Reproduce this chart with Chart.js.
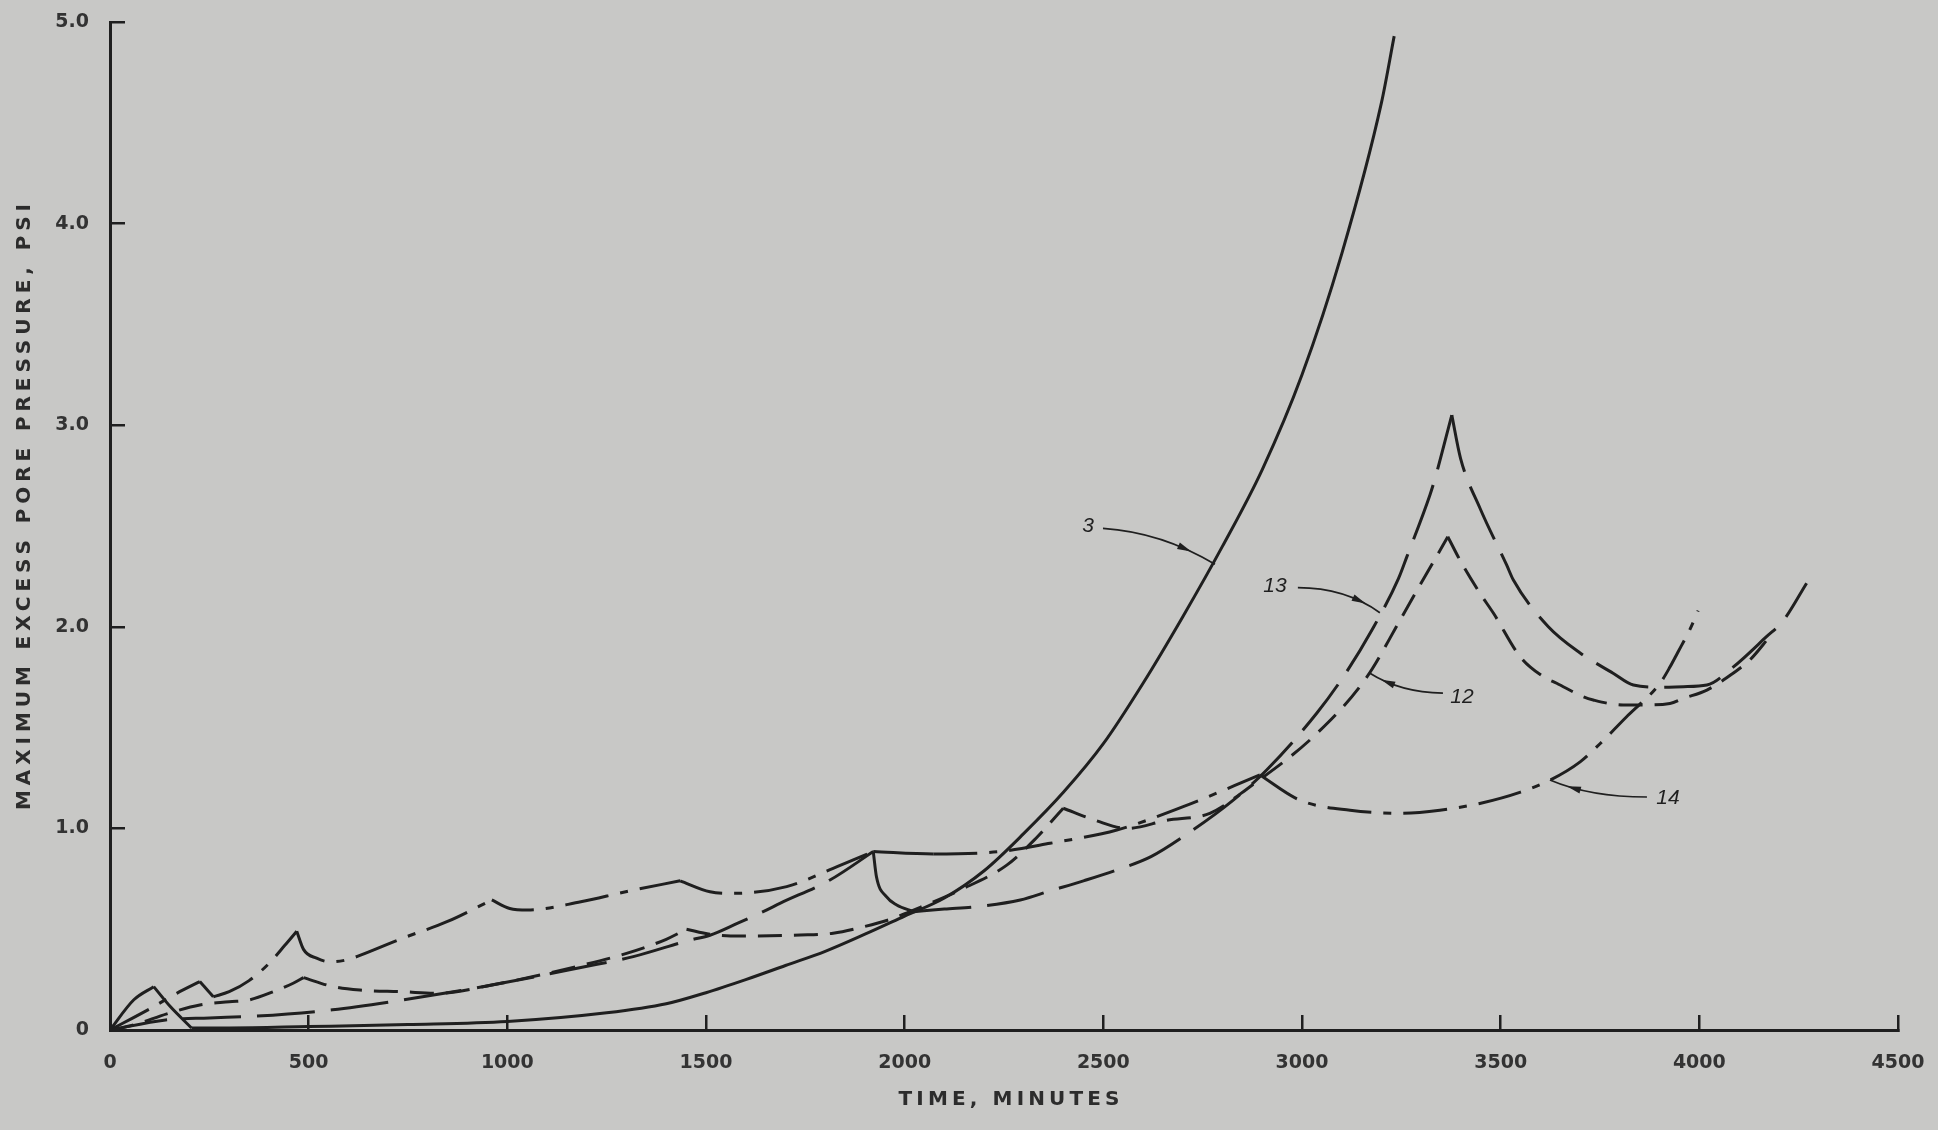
<!DOCTYPE html>
<html>
<head>
<meta charset="utf-8">
<title>Maximum excess pore pressure vs time</title>
<script src="https://cdn.jsdelivr.net/npm/chart.js@4.4.1/dist/chart.umd.min.js"></script>
<style>
  html, body { margin: 0; padding: 0; background: #c8c8c6; overflow: hidden; }
  canvas { display: block; }
</style>
</head>
<body>
<canvas id="chart" width="1938" height="1130"></canvas>
<script>
// Test 3 (solid)
const test3Time     = [0, 60, 110, 150, 205, 300, 500, 750, 1000, 1250, 1400, 1500, 1600, 1700, 1800, 1900, 2000, 2100, 2200, 2300, 2400, 2500, 2600, 2700, 2800, 2900, 3000, 3100, 3200, 3232];
const test3Pressure = [0, 0.15, 0.215, 0.12, 0.01, 0.01, 0.017, 0.027, 0.042, 0.085, 0.13, 0.185, 0.25, 0.32, 0.39, 0.475, 0.565, 0.655, 0.79, 0.975, 1.18, 1.42, 1.72, 2.05, 2.40, 2.78, 3.25, 3.85, 4.6, 4.93];
const test3Breaks   = [110, 205];

// Test 13 (long dashes)
const test13Time     = [0, 140, 250, 360, 560, 736, 961, 1185, 1317, 1460, 1510, 1580, 1652, 1686, 1812, 1921, 1929, 1954, 1980, 2022, 2100, 2181, 2291, 2366, 2450, 2534, 2620, 2701, 2827, 2911, 3037, 3110, 3176, 3243, 3264, 3322, 3335, 3377, 3399, 3448, 3515, 3532, 3620, 3700, 3783, 3834, 3900, 3960, 4019, 4085, 4169, 4211, 4270];
const test13Pressure = [0, 0.05, 0.06, 0.068, 0.1, 0.149, 0.223, 0.31, 0.364, 0.446, 0.47, 0.53, 0.595, 0.628, 0.744, 0.885, 0.76, 0.661, 0.62, 0.587, 0.60, 0.612, 0.645, 0.69, 0.74, 0.794, 0.86, 0.959, 1.14, 1.29, 1.571, 1.77, 1.984, 2.24, 2.348, 2.654, 2.737, 3.05, 2.836, 2.588, 2.307, 2.232, 2.0, 1.87, 1.77, 1.711, 1.70, 1.703, 1.711, 1.80, 1.951, 2.03, 2.216];
const test13Breaks   = [1921, 2022, 3377];

// Test 12 (short dashes)
const test12Time     = [0, 60, 143, 226, 300, 352, 411, 461, 487, 562, 629, 736, 826, 961, 1185, 1300, 1400, 1451, 1510, 1586, 1737, 1820, 1896, 1971, 2010, 2139, 2257, 2330, 2399, 2480, 2559, 2659, 2768, 2869, 3037, 3163, 3247, 3285, 3331, 3367, 3402, 3448, 3482, 3549, 3608, 3641, 3708, 3733, 3808, 3850, 3926, 3960, 4019, 4085, 4127, 4177];
const test12Pressure = [0, 0.025, 0.08, 0.124, 0.14, 0.15, 0.19, 0.232, 0.26, 0.215, 0.198, 0.19, 0.182, 0.223, 0.32, 0.38, 0.45, 0.5, 0.475, 0.466, 0.471, 0.48, 0.512, 0.554, 0.585, 0.694, 0.818, 0.95, 1.10, 1.04, 1.0, 1.04, 1.075, 1.207, 1.47, 1.75, 2.034, 2.166, 2.323, 2.447, 2.315, 2.166, 2.067, 1.852, 1.752, 1.72, 1.653, 1.637, 1.612, 1.612, 1.62, 1.645, 1.686, 1.77, 1.835, 1.951];
const test12Breaks   = [487, 1451, 2399, 3367];

// Test 14 (dash-dot)
const test14Time     = [0, 100, 168, 226, 260, 300, 350, 400, 440, 470, 487, 520, 555, 600, 629, 736, 848, 961, 1006, 1051, 1185, 1298, 1435, 1510, 1569, 1703, 1820, 1921, 2072, 2240, 2366, 2534, 2701, 2894, 2995, 3121, 3247, 3347, 3450, 3550, 3625, 3700, 3750, 3820, 3901, 3926, 3945, 3977, 3997];
const test14Pressure = [0, 0.105, 0.182, 0.24, 0.165, 0.19, 0.245, 0.33, 0.42, 0.49, 0.40, 0.356, 0.338, 0.35, 0.37, 0.455, 0.537, 0.645, 0.603, 0.595, 0.636, 0.686, 0.74, 0.686, 0.678, 0.711, 0.802, 0.885, 0.873, 0.885, 0.926, 0.992, 1.108, 1.265, 1.14, 1.09, 1.075, 1.09, 1.125, 1.18, 1.24, 1.33, 1.42, 1.56, 1.72, 1.80, 1.87, 1.99, 2.08];
const test14Breaks   = [226, 260, 470, 961, 1435, 1921, 2894];

// Axis ticks
const timeTicks = [0, 500, 1000, 1500, 2000, 2500, 3000, 3500, 4000, 4500];
const pressureTickLabels = ['0', '1.0', '2.0', '3.0', '4.0', '5.0'];

// Curve callouts: test number and the point its leader touches
const calloutNames    = ['3', '13', '12', '14'];
const calloutTime     = [2781, 3196, 3171, 3624];
const calloutPressure = [2.31, 2.07, 1.77, 1.24];

const ink = '#1f1f1f';

// Split a curve at its sharp load peaks so each smooth stretch is
// interpolated on its own and the peaks stay pointed.
function pieces(time, pressure, breaks) {
  const out = [];
  let cur = [];
  time.forEach((t, i) => {
    cur.push({ x: t, y: pressure[i] });
    if (breaks.includes(t) && i < time.length - 1) {
      out.push(cur);
      cur = [{ x: t, y: pressure[i] }];
    }
  });
  out.push(cur);
  return out;
}

const solidBetween = (a, b) => ctx =>
  (ctx.p0.parsed.x >= a && ctx.p1.parsed.x <= b) ? [] : undefined;

const lineStyle = {
  borderColor: ink, borderWidth: 3, pointRadius: 0, fill: false,
  cubicInterpolationMode: 'monotone', borderJoinStyle: 'miter', borderCapStyle: 'butt'
};

const curves = [
  { label: '3',  time: test3Time,  pressure: test3Pressure,  breaks: test3Breaks,  dash: [] },
  { label: '13', time: test13Time, pressure: test13Pressure, breaks: test13Breaks, dash: [58, 16],
    solid: [1921, 2022] },
  { label: '12', time: test12Time, pressure: test12Pressure, breaks: test12Breaks, dash: [24, 12] },
  { label: '14', time: test14Time, pressure: test14Pressure, breaks: test14Breaks, dash: [44, 12, 8, 12],
    solid: [1921, 2072] }
];

const datasets = [];
curves.forEach(c => {
  pieces(c.time, c.pressure, c.breaks).forEach(data => {
    const ds = Object.assign({}, lineStyle, { label: c.label, data, borderDash: c.dash });
    if (c.solid) ds.segment = { borderDash: solidBetween(c.solid[0], c.solid[1]) };
    datasets.push(ds);
  });
});

// Leader geometry in pixels, relative to the point on the curve
const calloutLayout = [
  { label: [-127, -38], from: [-112, -36], bend: [-53, -32] },
  { label: [-105, -27], from: [-82, -25],  bend: [-35, -25] },
  { label: [92, 24],    from: [73, 20],    bend: [30, 19] },
  { label: [118, 18],   from: [97, 17],    bend: [40, 17] }
];

const paperPlugin = {
  id: 'paper',
  beforeDraw(chart) {
    const { ctx, width, height } = chart;
    ctx.save();
    ctx.fillStyle = '#c8c8c6';
    ctx.fillRect(0, 0, width, height);
    ctx.restore();
  }
};

const calloutPlugin = {
  id: 'callouts',
  afterDatasetsDraw(chart) {
    const { ctx, scales: { x, y } } = chart;
    ctx.save();
    calloutNames.forEach((name, i) => {
      const L = calloutLayout[i];
      const tx = x.getPixelForValue(calloutTime[i]);
      const ty = y.getPixelForValue(calloutPressure[i]);
      const sx = tx + L.from[0], sy = ty + L.from[1];
      const cx = tx + L.bend[0], cy = ty + L.bend[1];
      ctx.strokeStyle = ink;
      ctx.lineWidth = 1.7;
      ctx.setLineDash([]);
      ctx.beginPath();
      ctx.moveTo(sx, sy);
      ctx.quadraticCurveTo(cx, cy, tx, ty);
      ctx.stroke();
      // arrowhead along the leader
      const t = 0.72;
      const px = (1 - t) * (1 - t) * sx + 2 * (1 - t) * t * cx + t * t * tx;
      const py = (1 - t) * (1 - t) * sy + 2 * (1 - t) * t * cy + t * t * ty;
      const dx = 2 * (1 - t) * (cx - sx) + 2 * t * (tx - cx);
      const dy = 2 * (1 - t) * (cy - sy) + 2 * t * (ty - cy);
      const len = Math.hypot(dx, dy) || 1;
      const ux = dx / len, uy = dy / len;
      ctx.fillStyle = ink;
      ctx.beginPath();
      ctx.moveTo(px + ux * 7, py + uy * 7);
      ctx.lineTo(px - ux * 7 - uy * 3.5, py - uy * 7 + ux * 3.5);
      ctx.lineTo(px - ux * 7 + uy * 3.5, py - uy * 7 - ux * 3.5);
      ctx.closePath();
      ctx.fill();
      // test number
      ctx.font = 'italic 21px "Liberation Sans"';
      ctx.textAlign = 'center';
      ctx.textBaseline = 'middle';
      ctx.fillText(name, tx + L.label[0], ty + L.label[1]);
    });
    ctx.restore();
  }
};

// Spread a title's letters so it spans the given width
function spacedText(ctx, text, x, y, span) {
  ctx.letterSpacing = '0px';
  const plain = ctx.measureText(text).width;
  const gap = Math.max(0, (span - plain) / (text.length - 1));
  ctx.letterSpacing = gap + 'px';
  ctx.fillText(text, x + gap / 2, y);
  ctx.letterSpacing = '0px';
}

const axisTitlePlugin = {
  id: 'axisTitles',
  afterDraw(chart) {
    const { ctx, chartArea: a } = chart;
    ctx.save();
    ctx.fillStyle = '#2c2c2c';
    ctx.font = 'bold 20px "DejaVu Sans"';
    ctx.textAlign = 'center';
    ctx.textBaseline = 'middle';
    spacedText(ctx, 'TIME, MINUTES', (a.left + a.right) / 2 + 5, a.bottom + 70, 221);
    ctx.translate(25, (a.top + a.bottom) / 2 - 19);
    ctx.rotate(-Math.PI / 2);
    spacedText(ctx, 'MAXIMUM EXCESS PORE PRESSURE, PSI', 0, 0, 606);
    ctx.restore();
  }
};

const tickFont = { family: '"DejaVu Sans"', size: 19, weight: 'bold' };
const axisGrid = {
  display: true, drawOnChartArea: false, drawTicks: true,
  tickLength: -15, tickWidth: 2.5, tickColor: ink, color: ink, lineWidth: 2.5
};

new Chart(document.getElementById('chart'), {
  type: 'line',
  data: { datasets },
  options: {
    responsive: false,
    animation: false,
    events: [],
    layout: { padding: { top: 22, right: 40, left: 0, bottom: 0 } },
    plugins: { legend: { display: false }, tooltip: { enabled: false } },
    scales: {
      x: {
        type: 'linear', min: 0, max: 4500,
        afterBuildTicks: s => { s.ticks = timeTicks.map(v => ({ value: v })); },
        ticks: { color: '#333333', font: tickFont, padding: 37, maxRotation: 0,
                 callback: v => String(v) },
        grid: axisGrid,
        border: { display: true, color: ink, width: 3 },
        afterFit: s => { s.height = 100; s.paddingLeft = 0; s.paddingRight = 0; }
      },
      y: {
        type: 'linear', min: 0, max: 5,
        afterBuildTicks: s => { s.ticks = pressureTickLabels.map((_, i) => ({ value: i })); },
        ticks: { color: '#333333', font: tickFont, padding: 36,
                 callback: v => pressureTickLabels[Math.round(v)] },
        grid: axisGrid,
        border: { display: true, color: ink, width: 3 },
        afterFit: s => { s.width = 110; s.paddingTop = 0; s.paddingBottom = 0; }
      }
    }
  },
  plugins: [paperPlugin, calloutPlugin, axisTitlePlugin]
});
</script>
</body>
</html>
